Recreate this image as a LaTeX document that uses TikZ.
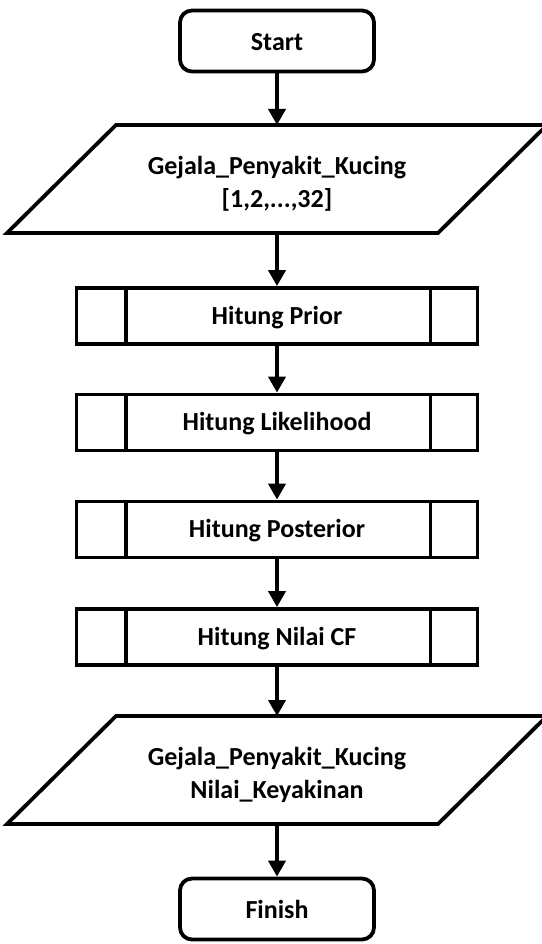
\documentclass[tikz,border=0pt]{standalone}
\usepackage{fontspec}
\setmainfont{Carlito}
\usetikzlibrary{arrows.meta,calc}
\begin{document}
\begin{tikzpicture}[x=1pt,y=-1pt,
  label/.style={font=\fontsize{26}{33}\selectfont\bfseries, align=center,
    inner sep=0pt},
  oneline/.style={label, text height=16.7pt, text depth=0pt},
  terminal/.style={draw, line width=3.8pt, rounded corners=12pt,
    minimum width=194pt, minimum height=61pt, inner sep=0pt},
  process/.style={draw, line width=3.8pt, minimum width=401pt,
    minimum height=56pt, inner sep=0pt},
  iobox/.style={minimum width=540pt, minimum height=108pt,
    inner sep=0pt, outer sep=0pt},
  flow/.style={line width=3.8pt, -{Triangle[length=16pt,width=17pt]}},
  edge/.style={line width=3.8pt, line join=miter}]

\useasboundingbox (0,0) rectangle (541,944);

% terminals
\node[terminal] (start) at (277,41) {};
\node[oneline] (startt) at (277,42) {Start};
\node[terminal] (finish) at (277,909) {};
\node[oneline] (finisht) at (277,910) {Finish};

% input / output parallelograms
\node[iobox] (in) at (277,179) {};
\node[label] (intext) at (277,184) {Gejala\_Penyakit\_Kucing\\{}[1,2,...,32]};
\node[iobox] (out) at (277,770) {};
\node[label] (outtext) at (277,775) {Gejala\_Penyakit\_Kucing\\Nilai\_Keyakinan};
\foreach \n in {in,out}{
  \draw[edge] (\n.south west) -- ($(\n.south east)+(-109,0)$)
    -- (\n.north east) -- ($(\n.north west)+(109,0)$) -- cycle;
}

% predefined processes
\node[process] (p1) at (277,316) {};
\node[oneline] (p1t) at (p1) {Hitung Prior};
\node[process] (p2) at (277,422.5) {};
\node[oneline] (p2t) at (p2) {Hitung Likelihood};
\node[process] (p3) at (277,529.5) {};
\node[oneline] (p3t) at (p3) {Hitung Posterior};
\node[process] (p4) at (277,637) {};
\node[oneline] (p4t) at (p4) {Hitung Nilai CF};
\foreach \n in {p1,p2,p3,p4}{
  \draw[edge] ($(\n.north west)+(51,0)$) -- ($(\n.south west)+(51,0)$);
  \draw[edge] ($(\n.north east)+(-49,0)$) -- ($(\n.south east)+(-49,0)$);
}

% flow
\draw[flow] (start) -- (in);
\draw[flow] (in) -- (p1);
\draw[flow] (p1) -- (p2);
\draw[flow] (p2) -- (p3);
\draw[flow] (p3) -- (p4);
\draw[flow] (p4) -- (out);
\draw[flow] (out) -- (finish);
\end{tikzpicture}
\end{document}
